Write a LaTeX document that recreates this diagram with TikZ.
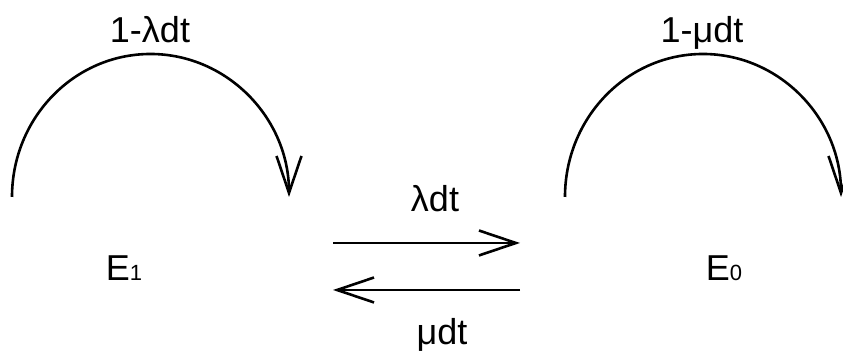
\documentclass[tikz,border=0pt]{standalone}
\usepackage{fontspec}
\setmainfont{Liberation Sans}
\usetikzlibrary{arrows.meta}

\begin{document}
\begin{tikzpicture}[x=0.5pt,y=0.5pt]
			\tikzstyle{every node}+=[inner sep=0pt, font=\fontsize{18}{20}\selectfont]
			\tikzstyle{trans}=[line width=1.3pt, -{Straight Barb[length=18.5pt,width=12.5pt,line width=1.3pt]}]
			\tikzstyle{stay}=[trans]
			\newcommand{\idx}[1]{{\fontsize{11}{12}\selectfont #1}}
			\useasboundingbox (0,0) rectangle (843,351);
			% states
			\node [anchor=base] (e1) at (124,70) {E\idx{1}};
			\node [anchor=base] (e0) at (724,70) {E\idx{0}};
			% self loops
			\coordinate (e1loop) at (12,154);
			\coordinate (e0loop) at (565,154);
			\draw [stay] (e1loop) arc (180:0:138.5 and 143);
			\draw [stay] (e0loop) arc (180:0:138 and 143);
			\node [anchor=base] (p11) at (150,308) {1-λdt};
			\node [anchor=base] (p00) at (702,308) {1-μdt};
			% transitions between states
			\coordinate (up1) at (333,108);
			\coordinate (up0) at (520,108);
			\coordinate (lo0) at (520,61);
			\coordinate (lo1) at (333,61);
			\draw [trans] (up1) -- (up0);
			\draw [trans] (lo0) -- (lo1);
			\node [anchor=base] (p10) at (435,139) {λdt};
			\node [anchor=base] (p01) at (442,6) {μdt};
		\end{tikzpicture}
\end{document}
